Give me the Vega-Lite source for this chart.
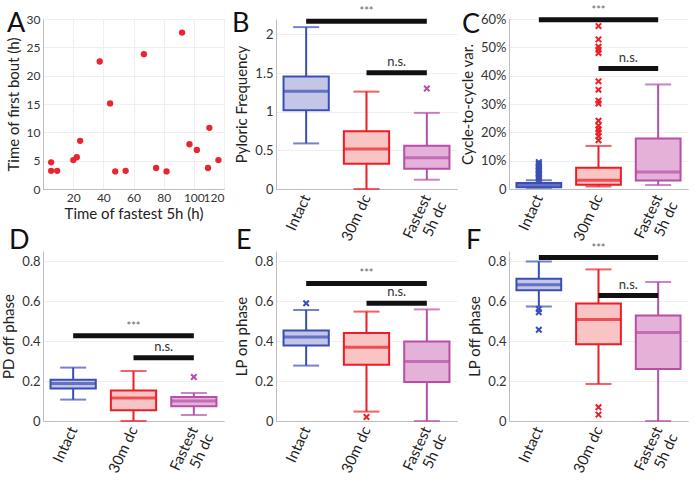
{
  "$schema": "https://vega.github.io/schema/vega-lite/v6.json",
  "padding": {"left": 1, "top": 4, "right": 5, "bottom": 5},
  "background": "white",
  "datasets": {
    "scatter": [
      {"fastest": 5.4, "firstbout": 4.7}, {"fastest": 5.4, "firstbout": 3.2}, {"fastest": 9.4, "firstbout": 3.2},
      {"fastest": 20.1, "firstbout": 5.1}, {"fastest": 22.4, "firstbout": 5.6}, {"fastest": 24.6, "firstbout": 8.5},
      {"fastest": 37.6, "firstbout": 22.5}, {"fastest": 44.5, "firstbout": 15.1}, {"fastest": 47.9, "firstbout": 3.1},
      {"fastest": 54.8, "firstbout": 3.2}, {"fastest": 66.9, "firstbout": 23.8}, {"fastest": 75, "firstbout": 3.7},
      {"fastest": 81.9, "firstbout": 3.1}, {"fastest": 92.2, "firstbout": 27.6}, {"fastest": 97.1, "firstbout": 7.9},
      {"fastest": 102, "firstbout": 6.9}, {"fastest": 109.4, "firstbout": 3.7}, {"fastest": 110.3, "firstbout": 10.8},
      {"fastest": 116.3, "firstbout": 5.1}
    ],
    "boxes": [
      {"panel": "B", "grp": "Intact", "lo": 0.59, "q1": 1.02, "med": 1.266, "q3": 1.456, "hi": 2.095},
      {"panel": "B", "grp": "30m dc", "lo": 0, "q1": 0.328, "med": 0.518, "q3": 0.747, "hi": 1.26},
      {"panel": "B", "grp": "Fastest 5h dc", "lo": 0.12, "q1": 0.263, "med": 0.406, "q3": 0.56, "hi": 0.985},
      {"panel": "C", "grp": "Intact", "lo": 0.004, "q1": 0.006, "med": 0.013, "q3": 0.021, "hi": 0.031},
      {"panel": "C", "grp": "30m dc", "lo": 0.009, "q1": 0.015, "med": 0.031, "q3": 0.075, "hi": 0.152},
      {"panel": "C", "grp": "Fastest 5h dc", "lo": 0.014, "q1": 0.03, "med": 0.06, "q3": 0.178, "hi": 0.369},
      {"panel": "D", "grp": "Intact", "lo": 0.107, "q1": 0.162, "med": 0.188, "q3": 0.206, "hi": 0.267},
      {"panel": "D", "grp": "30m dc", "lo": 0, "q1": 0.054, "med": 0.115, "q3": 0.152, "hi": 0.25},
      {"panel": "D", "grp": "Fastest 5h dc", "lo": 0.03, "q1": 0.074, "med": 0.1, "q3": 0.12, "hi": 0.14},
      {"panel": "E", "grp": "Intact", "lo": 0.277, "q1": 0.377, "med": 0.42, "q3": 0.453, "hi": 0.555},
      {"panel": "E", "grp": "30m dc", "lo": 0.047, "q1": 0.281, "med": 0.369, "q3": 0.44, "hi": 0.547},
      {"panel": "E", "grp": "Fastest 5h dc", "lo": 0, "q1": 0.195, "med": 0.298, "q3": 0.398, "hi": 0.558},
      {"panel": "F", "grp": "Intact", "lo": 0.572, "q1": 0.654, "med": 0.681, "q3": 0.711, "hi": 0.797},
      {"panel": "F", "grp": "30m dc", "lo": 0.185, "q1": 0.384, "med": 0.507, "q3": 0.587, "hi": 0.758},
      {"panel": "F", "grp": "Fastest 5h dc", "lo": 0, "q1": 0.26, "med": 0.443, "q3": 0.527, "hi": 0.695}
    ],
    "outliers": [
      {"panel": "B", "grp": "Fastest 5h dc", "v": 1.3},
      {"panel": "C", "grp": "Intact", "v": 0.035}, {"panel": "C", "grp": "Intact", "v": 0.04},
      {"panel": "C", "grp": "Intact", "v": 0.045}, {"panel": "C", "grp": "Intact", "v": 0.05},
      {"panel": "C", "grp": "Intact", "v": 0.055}, {"panel": "C", "grp": "Intact", "v": 0.06},
      {"panel": "C", "grp": "Intact", "v": 0.065}, {"panel": "C", "grp": "Intact", "v": 0.07},
      {"panel": "C", "grp": "Intact", "v": 0.075}, {"panel": "C", "grp": "Intact", "v": 0.08},
      {"panel": "C", "grp": "Intact", "v": 0.085}, {"panel": "C", "grp": "Intact", "v": 0.09},
      {"panel": "C", "grp": "Intact", "v": 0.095},
      {"panel": "C", "grp": "30m dc", "v": 0.575}, {"panel": "C", "grp": "30m dc", "v": 0.528},
      {"panel": "C", "grp": "30m dc", "v": 0.502}, {"panel": "C", "grp": "30m dc", "v": 0.492},
      {"panel": "C", "grp": "30m dc", "v": 0.48}, {"panel": "C", "grp": "30m dc", "v": 0.38},
      {"panel": "C", "grp": "30m dc", "v": 0.35}, {"panel": "C", "grp": "30m dc", "v": 0.312},
      {"panel": "C", "grp": "30m dc", "v": 0.302}, {"panel": "C", "grp": "30m dc", "v": 0.241},
      {"panel": "C", "grp": "30m dc", "v": 0.223}, {"panel": "C", "grp": "30m dc", "v": 0.211},
      {"panel": "C", "grp": "30m dc", "v": 0.2}, {"panel": "C", "grp": "30m dc", "v": 0.187},
      {"panel": "C", "grp": "30m dc", "v": 0.172},
      {"panel": "D", "grp": "Fastest 5h dc", "v": 0.22},
      {"panel": "E", "grp": "Intact", "v": 0.589}, {"panel": "E", "grp": "30m dc", "v": 0.02},
      {"panel": "F", "grp": "Intact", "v": 0.56}, {"panel": "F", "grp": "Intact", "v": 0.544},
      {"panel": "F", "grp": "Intact", "v": 0.456}, {"panel": "F", "grp": "30m dc", "v": 0.069},
      {"panel": "F", "grp": "30m dc", "v": 0.032}
    ],
    "sig": [
      {"panel": "B", "grp": "Intact", "g2": "Fastest 5h dc", "tgrp": "30m dc", "y": 2.17, "label": "***"},
      {"panel": "B", "grp": "30m dc", "g2": "Fastest 5h dc", "tgrp": "30m dc", "y": 1.503, "label": "n.s."},
      {"panel": "C", "grp": "Intact", "g2": "Fastest 5h dc", "tgrp": "30m dc", "y": 0.597, "label": "***"},
      {"panel": "C", "grp": "30m dc", "g2": "Fastest 5h dc", "tgrp": "30m dc", "y": 0.425, "label": "n.s."},
      {"panel": "D", "grp": "Intact", "g2": "Fastest 5h dc", "tgrp": "30m dc", "y": 0.426, "label": "***"},
      {"panel": "D", "grp": "30m dc", "g2": "Fastest 5h dc", "tgrp": "30m dc", "y": 0.316, "label": "n.s."},
      {"panel": "E", "grp": "Intact", "g2": "Fastest 5h dc", "tgrp": "30m dc", "y": 0.688, "label": "***"},
      {"panel": "E", "grp": "30m dc", "g2": "Fastest 5h dc", "tgrp": "30m dc", "y": 0.589, "label": "n.s."},
      {"panel": "F", "grp": "Intact", "g2": "Fastest 5h dc", "tgrp": "30m dc", "y": 0.817, "label": "***"},
      {"panel": "F", "grp": "30m dc", "g2": "Fastest 5h dc", "tgrp": "30m dc", "y": 0.627, "label": "n.s."}
    ]
  },
  "bounds": "flush",
  "columns": 3,
  "spacing": {"row": 62, "column": 52},
  "concat": [
    {
      "width": 181, "height": 170,
      "view": {"stroke": "#cccccc"},
      "layer": [
        {"data": {"name": "scatter"},
         "mark": {"type": "circle", "size": 40, "opacity": 1, "color": "#e8262d"},
         "encoding": {
           "x": {"field": "fastest", "type": "quantitative", "scale": {"domain": [0, 120], "nice": false},
                 "axis": {"title": "Time of fastest 5h (h)", "values": [20, 40, 60, 80, 100, 120], "tickCount": 12, "grid": true, "ticks": false, "titlePadding": 3, "labelOverlap": false, "labelFontSize": 12}},
           "y": {"field": "firstbout", "type": "quantitative", "scale": {"domain": [0, 30], "nice": false},
                 "axis": {"title": "Time of first bout (h)", "values": [0, 5, 10, 15, 20, 25, 30], "tickCount": 12, "grid": true, "ticks": false, "labelOverlap": false, "labelFontSize": 12}}
         }},
        {"data": {"values": [{"letter": "A"}]},
         "mark": {"type": "text", "fontSize": 27, "align": "left", "baseline": "alphabetic", "dx": -36, "dy": 13, "color": "#111111"},
         "encoding": {"x": {"datum": 0, "type": "quantitative"}, "y": {"datum": 30, "type": "quantitative"}, "text": {"field": "letter"}}}
      ]
    },
    {
      "width": 181, "height": 170,
      "encoding": {
        "x": {"field": "grp", "type": "nominal",
              "scale": {"type": "band", "domain": ["Intact", "30m dc", "Fastest 5h dc"], "paddingInner": 0, "paddingOuter": 0},
              "axis": {"title": null, "labelAngle": -65, "labelAlign": "right", "labelBaseline": "middle", "labelFontSize": 15, "labelColor": "#222", "ticks": false, "labelPadding": 6, "grid": false,
                       "labelExpr": "datum.value == 'Fastest 5h dc' ? ['Fastest', '5h dc'] : datum.value"}}
      },
      "layer": [
        {"data": {"name": "boxes"}, "transform": [{"filter": "datum.panel == 'B'"}],
         "mark": {"type": "rule", "strokeWidth": 2},
         "encoding": {"y": {"field": "lo", "type": "quantitative", "scale": {"domain": [0, 2.2], "nice": false},
                            "axis": {"title": "Pyloric Frequency", "values": [0, 0.5, 1, 1.5, 2], "tickCount": 12, "format": "~g", "grid": true, "ticks": false, "labelOverlap": false}},
                      "y2": {"field": "hi"},
                      "color": {"field": "grp", "type": "nominal", "scale": {"domain": ["Intact", "30m dc", "Fastest 5h dc"], "range": ["#3a4fb4", "#ee1d25", "#b74ea7"]}, "legend": null}}},
        {"data": {"name": "boxes"}, "transform": [{"filter": "datum.panel == 'B'"}],
         "mark": {"type": "bar", "width": {"band": 0.75}, "strokeWidth": 2},
         "encoding": {"y": {"field": "q1", "type": "quantitative"}, "y2": {"field": "q3"},
                      "fill": {"field": "grp", "type": "nominal", "scale": {"domain": ["Intact", "30m dc", "Fastest 5h dc"], "range": ["#c4c6e7", "#f9c4c4", "#e4b2d9"]}, "legend": null},
                      "stroke": {"field": "grp", "type": "nominal", "scale": {"domain": ["Intact", "30m dc", "Fastest 5h dc"], "range": ["#3a4fb4", "#ee1d25", "#b74ea7"]}, "legend": null}}},
        {"data": {"name": "boxes"}, "transform": [{"filter": "datum.panel == 'B'"}],
         "mark": {"type": "tick", "thickness": 3, "size": 45},
         "encoding": {"y": {"field": "med", "type": "quantitative"}, "color": {"field": "grp", "type": "nominal", "legend": null}}},
        {"data": {"name": "boxes"}, "transform": [{"filter": "datum.panel == 'B'"}],
         "mark": {"type": "tick", "thickness": 2, "size": 26},
         "encoding": {"y": {"field": "lo", "type": "quantitative"}, "color": {"field": "grp", "type": "nominal", "legend": null}}},
        {"data": {"name": "boxes"}, "transform": [{"filter": "datum.panel == 'B'"}],
         "mark": {"type": "tick", "thickness": 2, "size": 26},
         "encoding": {"y": {"field": "hi", "type": "quantitative"}, "color": {"field": "grp", "type": "nominal", "legend": null}}},
        {"data": {"name": "outliers"}, "transform": [{"filter": "datum.panel == 'B'"}],
         "mark": {"type": "point", "shape": "M-1,-1L1,1M-1,1L1,-1", "size": 30, "strokeWidth": 2, "filled": false, "opacity": 1},
         "encoding": {"y": {"field": "v", "type": "quantitative"}, "color": {"field": "grp", "type": "nominal", "legend": null}}},
        {"data": {"name": "sig"}, "transform": [{"filter": "datum.panel == 'B'"}],
         "mark": {"type": "rule", "strokeWidth": 5, "color": "#111111"},
         "encoding": {"x2": {"field": "g2"}, "y": {"field": "y", "type": "quantitative"}}},
        {"data": {"name": "sig"}, "transform": [{"filter": "datum.panel == 'B' && datum.label == '***'"}],
         "mark": {"type": "text", "dy": -9, "fontSize": 11, "color": "#666666"},
         "encoding": {"x": {"field": "tgrp", "type": "nominal", "bandPosition": 0.5}, "y": {"field": "y", "type": "quantitative"}, "text": {"field": "label"}}},
        {"data": {"name": "sig"}, "transform": [{"filter": "datum.panel == 'B' && datum.label == 'n.s.'"}],
         "mark": {"type": "text", "dy": -11, "fontSize": 13, "color": "#333333"},
         "encoding": {"x": {"field": "tgrp", "type": "nominal", "bandPosition": 1}, "y": {"field": "y", "type": "quantitative"}, "text": {"field": "label"}}},
        {"data": {"values": [{"letter": "B"}]},
         "mark": {"type": "text", "fontSize": 27, "align": "left", "baseline": "alphabetic", "dx": -44, "dy": 13, "color": "#111111"},
         "encoding": {"x": {"datum": "Intact", "type": "nominal", "bandPosition": 0}, "y": {"datum": 2.2, "type": "quantitative"}, "text": {"field": "letter"}}}
      ]
    },
    {
      "width": 179, "height": 170,
      "encoding": {
        "x": {"field": "grp", "type": "nominal",
              "scale": {"type": "band", "domain": ["Intact", "30m dc", "Fastest 5h dc"], "paddingInner": 0, "paddingOuter": 0},
              "axis": {"title": null, "labelAngle": -65, "labelAlign": "right", "labelBaseline": "middle", "labelFontSize": 15, "labelColor": "#222", "ticks": false, "labelPadding": 6, "grid": false,
                       "labelExpr": "datum.value == 'Fastest 5h dc' ? ['Fastest', '5h dc'] : datum.value"}}
      },
      "layer": [
        {"data": {"name": "boxes"}, "transform": [{"filter": "datum.panel == 'C'"}],
         "mark": {"type": "rule", "strokeWidth": 2},
         "encoding": {"y": {"field": "lo", "type": "quantitative", "scale": {"domain": [0, 0.6], "nice": false},
                            "axis": {"title": "Cycle-to-cycle var.", "values": [0, 0.1, 0.2, 0.3, 0.4, 0.5, 0.6], "tickCount": 12, "labelExpr": "datum.value == 0 ? '0' : format(datum.value, '.0%')", "grid": true, "ticks": false, "labelOverlap": false}},
                      "y2": {"field": "hi"},
                      "color": {"field": "grp", "type": "nominal", "scale": {"domain": ["Intact", "30m dc", "Fastest 5h dc"], "range": ["#3a4fb4", "#ee1d25", "#b74ea7"]}, "legend": null}}},
        {"data": {"name": "boxes"}, "transform": [{"filter": "datum.panel == 'C'"}],
         "mark": {"type": "bar", "width": {"band": 0.75}, "strokeWidth": 2},
         "encoding": {"y": {"field": "q1", "type": "quantitative"}, "y2": {"field": "q3"},
                      "fill": {"field": "grp", "type": "nominal", "scale": {"domain": ["Intact", "30m dc", "Fastest 5h dc"], "range": ["#c4c6e7", "#f9c4c4", "#e4b2d9"]}, "legend": null},
                      "stroke": {"field": "grp", "type": "nominal", "scale": {"domain": ["Intact", "30m dc", "Fastest 5h dc"], "range": ["#3a4fb4", "#ee1d25", "#b74ea7"]}, "legend": null}}},
        {"data": {"name": "boxes"}, "transform": [{"filter": "datum.panel == 'C'"}],
         "mark": {"type": "tick", "thickness": 3, "size": 45},
         "encoding": {"y": {"field": "med", "type": "quantitative"}, "color": {"field": "grp", "type": "nominal", "legend": null}}},
        {"data": {"name": "boxes"}, "transform": [{"filter": "datum.panel == 'C'"}],
         "mark": {"type": "tick", "thickness": 2, "size": 26},
         "encoding": {"y": {"field": "lo", "type": "quantitative"}, "color": {"field": "grp", "type": "nominal", "legend": null}}},
        {"data": {"name": "boxes"}, "transform": [{"filter": "datum.panel == 'C'"}],
         "mark": {"type": "tick", "thickness": 2, "size": 26},
         "encoding": {"y": {"field": "hi", "type": "quantitative"}, "color": {"field": "grp", "type": "nominal", "legend": null}}},
        {"data": {"name": "outliers"}, "transform": [{"filter": "datum.panel == 'C'"}],
         "mark": {"type": "point", "shape": "M-1,-1L1,1M-1,1L1,-1", "size": 30, "strokeWidth": 2, "filled": false, "opacity": 1},
         "encoding": {"y": {"field": "v", "type": "quantitative"}, "color": {"field": "grp", "type": "nominal", "legend": null}}},
        {"data": {"name": "sig"}, "transform": [{"filter": "datum.panel == 'C'"}],
         "mark": {"type": "rule", "strokeWidth": 5, "color": "#111111"},
         "encoding": {"x2": {"field": "g2"}, "y": {"field": "y", "type": "quantitative"}}},
        {"data": {"name": "sig"}, "transform": [{"filter": "datum.panel == 'C' && datum.label == '***'"}],
         "mark": {"type": "text", "dy": -9, "fontSize": 11, "color": "#666666"},
         "encoding": {"x": {"field": "tgrp", "type": "nominal", "bandPosition": 0.5}, "y": {"field": "y", "type": "quantitative"}, "text": {"field": "label"}}},
        {"data": {"name": "sig"}, "transform": [{"filter": "datum.panel == 'C' && datum.label == 'n.s.'"}],
         "mark": {"type": "text", "dy": -11, "fontSize": 13, "color": "#333333"},
         "encoding": {"x": {"field": "tgrp", "type": "nominal", "bandPosition": 1}, "y": {"field": "y", "type": "quantitative"}, "text": {"field": "label"}}},
        {"data": {"values": [{"letter": "C"}]},
         "mark": {"type": "text", "fontSize": 27, "align": "left", "baseline": "alphabetic", "dx": -47, "dy": 14, "color": "#111111"},
         "encoding": {"x": {"datum": "Intact", "type": "nominal", "bandPosition": 0}, "y": {"datum": 0.6, "type": "quantitative"}, "text": {"field": "letter"}}}
      ]
    },
    {
      "width": 181, "height": 170,
      "encoding": {
        "x": {"field": "grp", "type": "nominal",
              "scale": {"type": "band", "domain": ["Intact", "30m dc", "Fastest 5h dc"], "paddingInner": 0, "paddingOuter": 0},
              "axis": {"title": null, "labelAngle": -65, "labelAlign": "right", "labelBaseline": "middle", "labelFontSize": 15, "labelColor": "#222", "ticks": false, "labelPadding": 6, "grid": false,
                       "labelExpr": "datum.value == 'Fastest 5h dc' ? ['Fastest', '5h dc'] : datum.value"}}
      },
      "layer": [
        {"data": {"name": "boxes"}, "transform": [{"filter": "datum.panel == 'D'"}],
         "mark": {"type": "rule", "strokeWidth": 2},
         "encoding": {"y": {"field": "lo", "type": "quantitative", "scale": {"domain": [0, 0.85], "nice": false},
                            "axis": {"title": "PD off phase", "values": [0, 0.2, 0.4, 0.6, 0.8], "tickCount": 12, "format": "~g", "grid": true, "ticks": false, "labelOverlap": false}},
                      "y2": {"field": "hi"},
                      "color": {"field": "grp", "type": "nominal", "scale": {"domain": ["Intact", "30m dc", "Fastest 5h dc"], "range": ["#3a4fb4", "#ee1d25", "#b74ea7"]}, "legend": null}}},
        {"data": {"name": "boxes"}, "transform": [{"filter": "datum.panel == 'D'"}],
         "mark": {"type": "bar", "width": {"band": 0.75}, "strokeWidth": 2},
         "encoding": {"y": {"field": "q1", "type": "quantitative"}, "y2": {"field": "q3"},
                      "fill": {"field": "grp", "type": "nominal", "scale": {"domain": ["Intact", "30m dc", "Fastest 5h dc"], "range": ["#c4c6e7", "#f9c4c4", "#e4b2d9"]}, "legend": null},
                      "stroke": {"field": "grp", "type": "nominal", "scale": {"domain": ["Intact", "30m dc", "Fastest 5h dc"], "range": ["#3a4fb4", "#ee1d25", "#b74ea7"]}, "legend": null}}},
        {"data": {"name": "boxes"}, "transform": [{"filter": "datum.panel == 'D'"}],
         "mark": {"type": "tick", "thickness": 3, "size": 45},
         "encoding": {"y": {"field": "med", "type": "quantitative"}, "color": {"field": "grp", "type": "nominal", "legend": null}}},
        {"data": {"name": "boxes"}, "transform": [{"filter": "datum.panel == 'D'"}],
         "mark": {"type": "tick", "thickness": 2, "size": 26},
         "encoding": {"y": {"field": "lo", "type": "quantitative"}, "color": {"field": "grp", "type": "nominal", "legend": null}}},
        {"data": {"name": "boxes"}, "transform": [{"filter": "datum.panel == 'D'"}],
         "mark": {"type": "tick", "thickness": 2, "size": 26},
         "encoding": {"y": {"field": "hi", "type": "quantitative"}, "color": {"field": "grp", "type": "nominal", "legend": null}}},
        {"data": {"name": "outliers"}, "transform": [{"filter": "datum.panel == 'D'"}],
         "mark": {"type": "point", "shape": "M-1,-1L1,1M-1,1L1,-1", "size": 30, "strokeWidth": 2, "filled": false, "opacity": 1},
         "encoding": {"y": {"field": "v", "type": "quantitative"}, "color": {"field": "grp", "type": "nominal", "legend": null}}},
        {"data": {"name": "sig"}, "transform": [{"filter": "datum.panel == 'D'"}],
         "mark": {"type": "rule", "strokeWidth": 5, "color": "#111111"},
         "encoding": {"x2": {"field": "g2"}, "y": {"field": "y", "type": "quantitative"}}},
        {"data": {"name": "sig"}, "transform": [{"filter": "datum.panel == 'D' && datum.label == '***'"}],
         "mark": {"type": "text", "dy": -9, "fontSize": 11, "color": "#666666"},
         "encoding": {"x": {"field": "tgrp", "type": "nominal", "bandPosition": 0.5}, "y": {"field": "y", "type": "quantitative"}, "text": {"field": "label"}}},
        {"data": {"name": "sig"}, "transform": [{"filter": "datum.panel == 'D' && datum.label == 'n.s.'"}],
         "mark": {"type": "text", "dy": -11, "fontSize": 13, "color": "#333333"},
         "encoding": {"x": {"field": "tgrp", "type": "nominal", "bandPosition": 1}, "y": {"field": "y", "type": "quantitative"}, "text": {"field": "label"}}},
        {"data": {"values": [{"letter": "D"}]},
         "mark": {"type": "text", "fontSize": 27, "align": "left", "baseline": "alphabetic", "dx": -34, "dy": -2, "color": "#111111"},
         "encoding": {"x": {"datum": "Intact", "type": "nominal", "bandPosition": 0}, "y": {"datum": 0.85, "type": "quantitative"}, "text": {"field": "letter"}}}
      ]
    },
    {
      "width": 181, "height": 170,
      "encoding": {
        "x": {"field": "grp", "type": "nominal",
              "scale": {"type": "band", "domain": ["Intact", "30m dc", "Fastest 5h dc"], "paddingInner": 0, "paddingOuter": 0},
              "axis": {"title": null, "labelAngle": -65, "labelAlign": "right", "labelBaseline": "middle", "labelFontSize": 15, "labelColor": "#222", "ticks": false, "labelPadding": 6, "grid": false,
                       "labelExpr": "datum.value == 'Fastest 5h dc' ? ['Fastest', '5h dc'] : datum.value"}}
      },
      "layer": [
        {"data": {"name": "boxes"}, "transform": [{"filter": "datum.panel == 'E'"}],
         "mark": {"type": "rule", "strokeWidth": 2},
         "encoding": {"y": {"field": "lo", "type": "quantitative", "scale": {"domain": [0, 0.85], "nice": false},
                            "axis": {"title": "LP on phase", "values": [0, 0.2, 0.4, 0.6, 0.8], "tickCount": 12, "format": "~g", "grid": true, "ticks": false, "labelOverlap": false}},
                      "y2": {"field": "hi"},
                      "color": {"field": "grp", "type": "nominal", "scale": {"domain": ["Intact", "30m dc", "Fastest 5h dc"], "range": ["#3a4fb4", "#ee1d25", "#b74ea7"]}, "legend": null}}},
        {"data": {"name": "boxes"}, "transform": [{"filter": "datum.panel == 'E'"}],
         "mark": {"type": "bar", "width": {"band": 0.75}, "strokeWidth": 2},
         "encoding": {"y": {"field": "q1", "type": "quantitative"}, "y2": {"field": "q3"},
                      "fill": {"field": "grp", "type": "nominal", "scale": {"domain": ["Intact", "30m dc", "Fastest 5h dc"], "range": ["#c4c6e7", "#f9c4c4", "#e4b2d9"]}, "legend": null},
                      "stroke": {"field": "grp", "type": "nominal", "scale": {"domain": ["Intact", "30m dc", "Fastest 5h dc"], "range": ["#3a4fb4", "#ee1d25", "#b74ea7"]}, "legend": null}}},
        {"data": {"name": "boxes"}, "transform": [{"filter": "datum.panel == 'E'"}],
         "mark": {"type": "tick", "thickness": 3, "size": 45},
         "encoding": {"y": {"field": "med", "type": "quantitative"}, "color": {"field": "grp", "type": "nominal", "legend": null}}},
        {"data": {"name": "boxes"}, "transform": [{"filter": "datum.panel == 'E'"}],
         "mark": {"type": "tick", "thickness": 2, "size": 26},
         "encoding": {"y": {"field": "lo", "type": "quantitative"}, "color": {"field": "grp", "type": "nominal", "legend": null}}},
        {"data": {"name": "boxes"}, "transform": [{"filter": "datum.panel == 'E'"}],
         "mark": {"type": "tick", "thickness": 2, "size": 26},
         "encoding": {"y": {"field": "hi", "type": "quantitative"}, "color": {"field": "grp", "type": "nominal", "legend": null}}},
        {"data": {"name": "outliers"}, "transform": [{"filter": "datum.panel == 'E'"}],
         "mark": {"type": "point", "shape": "M-1,-1L1,1M-1,1L1,-1", "size": 30, "strokeWidth": 2, "filled": false, "opacity": 1},
         "encoding": {"y": {"field": "v", "type": "quantitative"}, "color": {"field": "grp", "type": "nominal", "legend": null}}},
        {"data": {"name": "sig"}, "transform": [{"filter": "datum.panel == 'E'"}],
         "mark": {"type": "rule", "strokeWidth": 5, "color": "#111111"},
         "encoding": {"x2": {"field": "g2"}, "y": {"field": "y", "type": "quantitative"}}},
        {"data": {"name": "sig"}, "transform": [{"filter": "datum.panel == 'E' && datum.label == '***'"}],
         "mark": {"type": "text", "dy": -9, "fontSize": 11, "color": "#666666"},
         "encoding": {"x": {"field": "tgrp", "type": "nominal", "bandPosition": 0.5}, "y": {"field": "y", "type": "quantitative"}, "text": {"field": "label"}}},
        {"data": {"name": "sig"}, "transform": [{"filter": "datum.panel == 'E' && datum.label == 'n.s.'"}],
         "mark": {"type": "text", "dy": -11, "fontSize": 13, "color": "#333333"},
         "encoding": {"x": {"field": "tgrp", "type": "nominal", "bandPosition": 1}, "y": {"field": "y", "type": "quantitative"}, "text": {"field": "label"}}},
        {"data": {"values": [{"letter": "E"}]},
         "mark": {"type": "text", "fontSize": 27, "align": "left", "baseline": "alphabetic", "dx": -40, "dy": -2, "color": "#111111"},
         "encoding": {"x": {"datum": "Intact", "type": "nominal", "bandPosition": 0}, "y": {"datum": 0.85, "type": "quantitative"}, "text": {"field": "letter"}}}
      ]
    },
    {
      "width": 179, "height": 170,
      "encoding": {
        "x": {"field": "grp", "type": "nominal",
              "scale": {"type": "band", "domain": ["Intact", "30m dc", "Fastest 5h dc"], "paddingInner": 0, "paddingOuter": 0},
              "axis": {"title": null, "labelAngle": -65, "labelAlign": "right", "labelBaseline": "middle", "labelFontSize": 15, "labelColor": "#222", "ticks": false, "labelPadding": 6, "grid": false,
                       "labelExpr": "datum.value == 'Fastest 5h dc' ? ['Fastest', '5h dc'] : datum.value"}}
      },
      "layer": [
        {"data": {"name": "boxes"}, "transform": [{"filter": "datum.panel == 'F'"}],
         "mark": {"type": "rule", "strokeWidth": 2},
         "encoding": {"y": {"field": "lo", "type": "quantitative", "scale": {"domain": [0, 0.85], "nice": false},
                            "axis": {"title": "LP off phase", "values": [0, 0.2, 0.4, 0.6, 0.8], "tickCount": 12, "format": "~g", "grid": true, "ticks": false, "labelOverlap": false}},
                      "y2": {"field": "hi"},
                      "color": {"field": "grp", "type": "nominal", "scale": {"domain": ["Intact", "30m dc", "Fastest 5h dc"], "range": ["#3a4fb4", "#ee1d25", "#b74ea7"]}, "legend": null}}},
        {"data": {"name": "boxes"}, "transform": [{"filter": "datum.panel == 'F'"}],
         "mark": {"type": "bar", "width": {"band": 0.75}, "strokeWidth": 2},
         "encoding": {"y": {"field": "q1", "type": "quantitative"}, "y2": {"field": "q3"},
                      "fill": {"field": "grp", "type": "nominal", "scale": {"domain": ["Intact", "30m dc", "Fastest 5h dc"], "range": ["#c4c6e7", "#f9c4c4", "#e4b2d9"]}, "legend": null},
                      "stroke": {"field": "grp", "type": "nominal", "scale": {"domain": ["Intact", "30m dc", "Fastest 5h dc"], "range": ["#3a4fb4", "#ee1d25", "#b74ea7"]}, "legend": null}}},
        {"data": {"name": "boxes"}, "transform": [{"filter": "datum.panel == 'F'"}],
         "mark": {"type": "tick", "thickness": 3, "size": 45},
         "encoding": {"y": {"field": "med", "type": "quantitative"}, "color": {"field": "grp", "type": "nominal", "legend": null}}},
        {"data": {"name": "boxes"}, "transform": [{"filter": "datum.panel == 'F'"}],
         "mark": {"type": "tick", "thickness": 2, "size": 26},
         "encoding": {"y": {"field": "lo", "type": "quantitative"}, "color": {"field": "grp", "type": "nominal", "legend": null}}},
        {"data": {"name": "boxes"}, "transform": [{"filter": "datum.panel == 'F'"}],
         "mark": {"type": "tick", "thickness": 2, "size": 26},
         "encoding": {"y": {"field": "hi", "type": "quantitative"}, "color": {"field": "grp", "type": "nominal", "legend": null}}},
        {"data": {"name": "outliers"}, "transform": [{"filter": "datum.panel == 'F'"}],
         "mark": {"type": "point", "shape": "M-1,-1L1,1M-1,1L1,-1", "size": 30, "strokeWidth": 2, "filled": false, "opacity": 1},
         "encoding": {"y": {"field": "v", "type": "quantitative"}, "color": {"field": "grp", "type": "nominal", "legend": null}}},
        {"data": {"name": "sig"}, "transform": [{"filter": "datum.panel == 'F'"}],
         "mark": {"type": "rule", "strokeWidth": 5, "color": "#111111"},
         "encoding": {"x2": {"field": "g2"}, "y": {"field": "y", "type": "quantitative"}}},
        {"data": {"name": "sig"}, "transform": [{"filter": "datum.panel == 'F' && datum.label == '***'"}],
         "mark": {"type": "text", "dy": -9, "fontSize": 11, "color": "#666666"},
         "encoding": {"x": {"field": "tgrp", "type": "nominal", "bandPosition": 0.5}, "y": {"field": "y", "type": "quantitative"}, "text": {"field": "label"}}},
        {"data": {"name": "sig"}, "transform": [{"filter": "datum.panel == 'F' && datum.label == 'n.s.'"}],
         "mark": {"type": "text", "dy": -11, "fontSize": 13, "color": "#333333"},
         "encoding": {"x": {"field": "tgrp", "type": "nominal", "bandPosition": 1}, "y": {"field": "y", "type": "quantitative"}, "text": {"field": "label"}}},
        {"data": {"values": [{"letter": "F"}]},
         "mark": {"type": "text", "fontSize": 27, "align": "left", "baseline": "alphabetic", "dx": -43, "dy": -2, "color": "#111111"},
         "encoding": {"x": {"datum": "Intact", "type": "nominal", "bandPosition": 0}, "y": {"datum": 0.85, "type": "quantitative"}, "text": {"field": "letter"}}}
      ]
    }
  ],
  "config": {
    "font": "Lato",
    "view": {"stroke": null},
    "axis": {"labelFont": "Lato", "titleFont": "Lato", "labelFontSize": 13, "labelColor": "#333333", "titleFontSize": 15, "titleFontWeight": "normal", "titleColor": "#222222",
             "domainColor": "#bdbdbd", "tickColor": "#bdbdbd", "gridColor": "#efefef", "labelPadding": 3, "titlePadding": 5, "labelOverlap": false},
    "text": {"font": "Lato"}
  }
}
